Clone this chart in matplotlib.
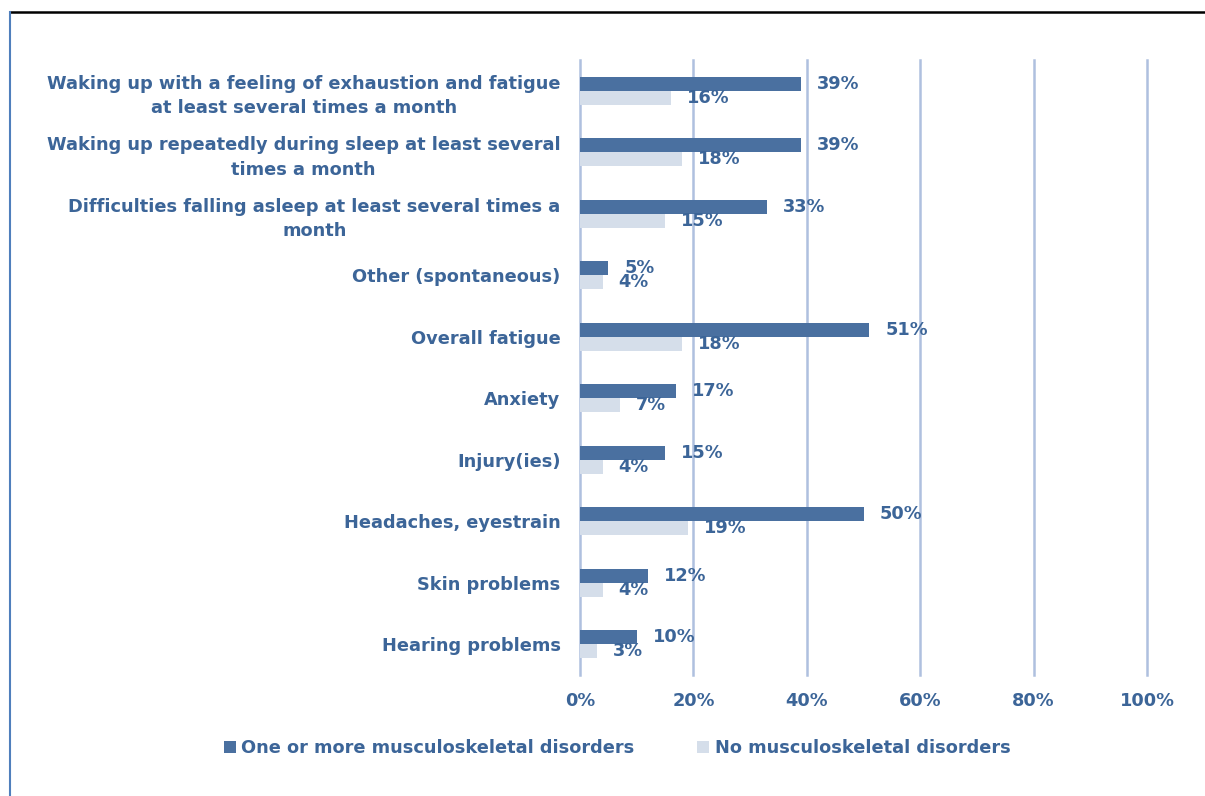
import matplotlib
matplotlib.use("Agg")
import matplotlib.pyplot as plt
from matplotlib.patches import Patch
from matplotlib.lines import Line2D
import numpy as np

categories = [
    "Waking up with a feeling of exhaustion and fatigue\nat least several times a month",
    "Waking up repeatedly during sleep at least several\ntimes a month",
    "Difficulties falling asleep at least several times a\nmonth",
    "Other (spontaneous)",
    "Overall fatigue",
    "Anxiety",
    "Injury(ies)",
    "Headaches, eyestrain",
    "Skin problems",
    "Hearing problems",
]
msd_yes = [39, 39, 33, 5, 51, 17, 15, 50, 12, 10]
msd_no = [16, 18, 15, 4, 18, 7, 4, 19, 4, 3]
series_names = ["One or more musculoskeletal disorders", "No musculoskeletal disorders"]
xticks = [0, 20, 40, 60, 80, 100]
xtick_labels = ["0%", "20%", "40%", "60%", "80%", "100%"]

dark = "#4A70A0"
light = "#D5DEEA"
text_c = "#3C6598"
grid_c = "#AFC0DF"

plt.rcParams['font.family'] = ['DejaVu Sans']
plt.rcParams['font.weight'] = 'bold'
fs = 12.8

fig = plt.figure(figsize=(12.05, 7.96), dpi=100)
ax = fig.add_axes([580/1205, 1-675/796, 567/1205, 615/796])

y = np.arange(len(categories))
h = 0.23
b1 = ax.barh(y - h/2, msd_yes, height=h, color=dark, zorder=3)
b2 = ax.barh(y + h/2, msd_no, height=h, color=light, zorder=3)

for bars, vals in ((b1, msd_yes), (b2, msd_no)):
    for r, v in zip(bars, vals):
        ax.annotate(f"{v}%", (r.get_width(), r.get_y() + r.get_height()/2),
                    xytext=(11.5, 0), textcoords="offset points",
                    ha="left", va="center", fontsize=fs, fontweight="bold",
                    color=text_c, zorder=5)

ax.set_xlim(0, 100)
ax.set_ylim(len(categories) - 0.5, -0.5)
ax.set_xticks(xticks)
ax.set_xticklabels(xtick_labels, fontsize=fs, fontweight="bold", color=text_c)
ax.set_yticks(y)
ax.set_yticklabels(categories, fontsize=fs, fontweight="bold", color=text_c,
                   multialignment="center", linespacing=1.45)
ax.tick_params(axis="both", length=0)
ax.tick_params(axis="x", pad=12)
ax.tick_params(axis="y", pad=14)
for s in ax.spines.values():
    s.set_visible(False)
for xt in xticks:
    ax.axvline(xt, color=grid_c, lw=1.8, zorder=1, clip_on=False)

handles = [Patch(facecolor=dark, edgecolor="none"), Patch(facecolor=light, edgecolor="none")]
leg = fig.legend(handles, series_names, loc="center", bbox_to_anchor=(617/1205, 1-748/796),
                 ncol=2, frameon=False, handlelength=0.7, handleheight=0.7,
                 handletextpad=0.3, columnspacing=3.5,
                 prop={"size": fs, "weight": "bold"})
for t in leg.get_texts():
    t.set_color(text_c)

# frame lines
fig.add_artist(Line2D([10/1205, 1], [1-12/796, 1-12/796], color="black", lw=1.8,
                      transform=fig.transFigure))
fig.add_artist(Line2D([10/1205, 10/1205], [0, 1-12/796], color="#4F7FBC", lw=1.5,
                      transform=fig.transFigure))

fig.savefig("out.png", dpi=100)
